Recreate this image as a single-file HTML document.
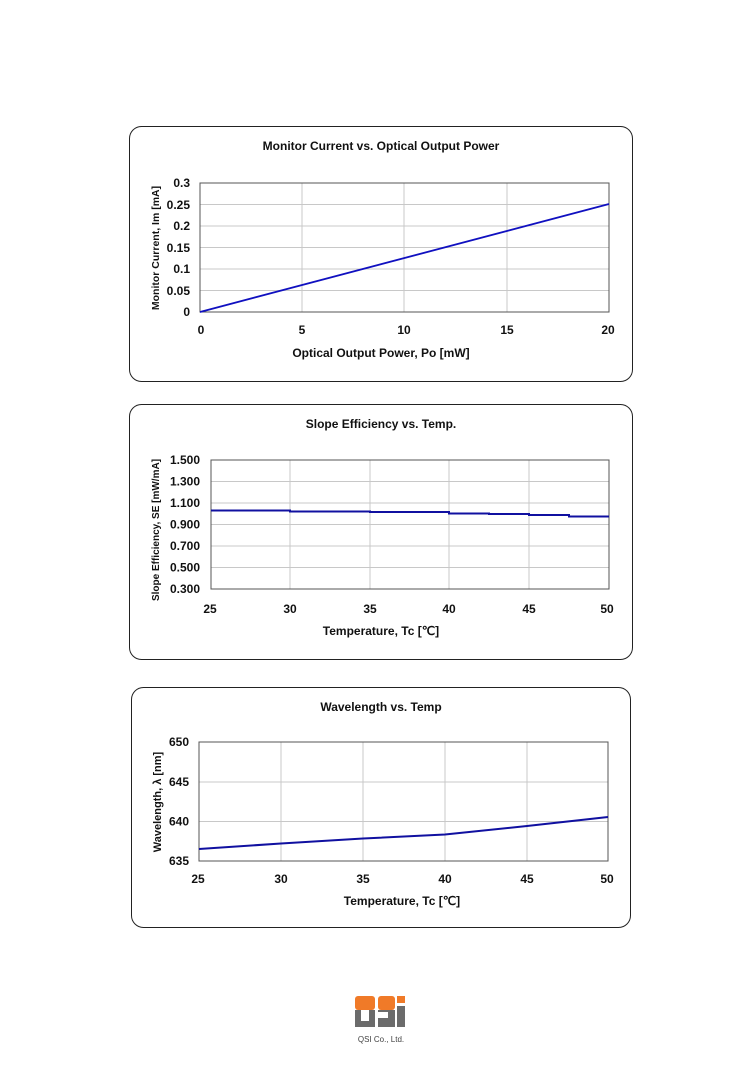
<!DOCTYPE html>
<html><head><meta charset="utf-8"><style>
html,body{margin:0;padding:0;background:#fff;}
svg{display:block;font-family:"Liberation Sans",Arial,sans-serif;font-weight:bold;}
</style></head><body>
<svg width="754" height="1067" viewBox="0 0 754 1067" xmlns="http://www.w3.org/2000/svg">
<rect width="754" height="1067" fill="#fff"/>
<!-- Chart 1 -->
<rect x="129.5" y="126.5" width="503" height="255" rx="12" fill="#fff" stroke="#222" stroke-width="1"/>
<text x="381" y="150" font-size="12" text-anchor="middle" fill="#111">Monitor Current vs. Optical Output Power</text>
<g stroke="#c8c8c8" stroke-width="1">
<line x1="200" y1="204.5" x2="609" y2="204.5"/><line x1="200" y1="226" x2="609" y2="226"/><line x1="200" y1="247.5" x2="609" y2="247.5"/><line x1="200" y1="269" x2="609" y2="269"/><line x1="200" y1="290.5" x2="609" y2="290.5"/>
<line x1="302" y1="183" x2="302" y2="312"/><line x1="404" y1="183" x2="404" y2="312"/><line x1="507" y1="183" x2="507" y2="312"/>
</g>
<rect x="200" y="183" width="409" height="129" fill="none" stroke="#555" stroke-width="1"/>
<line x1="200" y1="312" x2="609" y2="204" stroke="#1010c0" stroke-width="1.8"/>
<g font-size="12" fill="#111" text-anchor="end">
<text x="190" y="187">0.3</text><text x="190" y="209">0.25</text><text x="190" y="230">0.2</text><text x="190" y="252">0.15</text><text x="190" y="273">0.1</text><text x="190" y="295">0.05</text><text x="190" y="316">0</text>
</g>
<g font-size="12" fill="#111" text-anchor="middle">
<text x="201" y="334">0</text><text x="302" y="334">5</text><text x="404" y="334">10</text><text x="507" y="334">15</text><text x="608" y="334">20</text>
</g>
<text x="381" y="357" font-size="12" text-anchor="middle" fill="#111">Optical Output Power, Po [mW]</text>
<text transform="translate(159,248) rotate(-90)" font-size="10.5" text-anchor="middle" fill="#111">Monitor Current, Im [mA]</text>

<!-- Chart 2 -->
<rect x="129.5" y="404.5" width="503" height="255" rx="12" fill="#fff" stroke="#222" stroke-width="1"/>
<text x="381" y="428" font-size="12" text-anchor="middle" fill="#111">Slope Efficiency vs. Temp.</text>
<g stroke="#c8c8c8" stroke-width="1">
<line x1="211" y1="481.5" x2="609" y2="481.5"/><line x1="211" y1="503" x2="609" y2="503"/><line x1="211" y1="524.5" x2="609" y2="524.5"/><line x1="211" y1="546" x2="609" y2="546"/><line x1="211" y1="567.5" x2="609" y2="567.5"/>
<line x1="290" y1="460" x2="290" y2="589"/><line x1="370" y1="460" x2="370" y2="589"/><line x1="449" y1="460" x2="449" y2="589"/><line x1="529" y1="460" x2="529" y2="589"/>
</g>
<rect x="211" y="460" width="398" height="129" fill="none" stroke="#555" stroke-width="1"/>
<polyline points="211,510.5 290,510.5 290,511.5 370,511.5 370,512 449,512 449,513.5 489,513.5 489,514 529,514 529,515 569,515 569,516.5 609,516.5" fill="none" stroke="#1010a0" stroke-width="2"/>
<g font-size="12" fill="#111" text-anchor="end">
<text x="200" y="464">1.500</text><text x="200" y="485.5">1.300</text><text x="200" y="507">1.100</text><text x="200" y="528.5">0.900</text><text x="200" y="550">0.700</text><text x="200" y="571.5">0.500</text><text x="200" y="593">0.300</text>
</g>
<g font-size="12" fill="#111" text-anchor="middle">
<text x="210" y="613">25</text><text x="290" y="613">30</text><text x="370" y="613">35</text><text x="449" y="613">40</text><text x="529" y="613">45</text><text x="607" y="613">50</text>
</g>
<text x="381" y="635" font-size="12" text-anchor="middle" fill="#111">Temperature, Tc [℃]</text>
<text transform="translate(159,530) rotate(-90)" font-size="10" text-anchor="middle" fill="#111">Slope Efficiency, SE [mW/mA]</text>

<!-- Chart 3 -->
<rect x="131.5" y="687.5" width="499" height="240" rx="12" fill="#fff" stroke="#222" stroke-width="1"/>
<text x="381" y="711" font-size="12" text-anchor="middle" fill="#111">Wavelength vs. Temp</text>
<g stroke="#c8c8c8" stroke-width="1">
<line x1="199" y1="782" x2="608" y2="782"/><line x1="199" y1="821.5" x2="608" y2="821.5"/>
<line x1="281" y1="742" x2="281" y2="861"/><line x1="363" y1="742" x2="363" y2="861"/><line x1="445" y1="742" x2="445" y2="861"/><line x1="527" y1="742" x2="527" y2="861"/>
</g>
<rect x="199" y="742" width="409" height="119" fill="none" stroke="#555" stroke-width="1"/>
<polyline points="199,849 281,843.5 363,838.5 445,834.5 527,826 608,817" fill="none" stroke="#1010a0" stroke-width="2"/>
<g font-size="12" fill="#111" text-anchor="end">
<text x="189" y="746">650</text><text x="189" y="786">645</text><text x="189" y="825.5">640</text><text x="189" y="865">635</text>
</g>
<g font-size="12" fill="#111" text-anchor="middle">
<text x="198" y="883">25</text><text x="281" y="883">30</text><text x="363" y="883">35</text><text x="445" y="883">40</text><text x="527" y="883">45</text><text x="607" y="883">50</text>
</g>
<text x="402" y="905" font-size="12" text-anchor="middle" fill="#111">Temperature, Tc [℃]</text>
<text transform="translate(161,802) rotate(-90)" font-size="11" text-anchor="middle" fill="#111">Wavelength, λ [nm]</text>

<!-- Logo -->
<g>
<rect x="355" y="996" width="20" height="14" rx="3" fill="#f07a28"/>
<rect x="378" y="996" width="17" height="14" rx="3" fill="#f07a28"/>
<rect x="397" y="996" width="8" height="7" fill="#f07a28"/>
<rect x="355" y="1010" width="20" height="17" fill="#6b6b6b"/>
<rect x="361" y="1010" width="8" height="11" fill="#fff"/>
<rect x="378" y="1010" width="17" height="17" fill="#6b6b6b"/>
<rect x="378" y="1012" width="10" height="6" fill="#fff"/>
<rect x="397" y="1006" width="8" height="21" fill="#6b6b6b"/>
<text x="381" y="1042" font-size="8" font-weight="normal" text-anchor="middle" fill="#444">QSI Co., Ltd.</text>
</g>
</svg>
</body></html>
